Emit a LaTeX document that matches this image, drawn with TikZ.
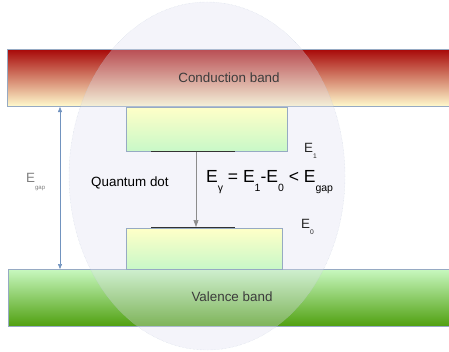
\documentclass[tikz,border=0pt]{standalone}
\usepackage{fontspec}
\setmainfont{Liberation Sans}
\usepackage{tikz}
\usetikzlibrary{shapes.geometric, positioning, arrows.meta, calc}
\definecolor{bandred}{RGB}{168,8,8}
\definecolor{bandcream}{RGB}{255,250,205}
\definecolor{bandlgreen}{RGB}{200,248,192}
\definecolor{banddgreen}{RGB}{80,160,16}
\definecolor{dotyellow}{RGB}{255,255,200}
\definecolor{dotgreen}{RGB}{200,248,200}
\definecolor{dotfill}{RGB}{222,222,240}
\definecolor{edgeblue}{RGB}{150,170,195}
\definecolor{gapblue}{RGB}{52,101,164}
\definecolor{textgray}{RGB}{60,60,60}
\newcommand{\baja}[2][0.5]{\raisebox{-0.5em}{\scalebox{#1}{#2}}}
\tikzset{
  banda/.style={rectangle, draw=edgeblue, thin, inner sep=0pt},
  nivel/.style={rectangle, draw=edgeblue, thin, top color=dotyellow, bottom color=dotgreen, inner sep=0pt},
  linea/.style={draw=black!80, line width=0.9pt},
  flecha/.style={-{Triangle[length=7pt, width=5pt]}, draw=black!45, line width=0.6pt},
  etiqueta/.style={font=\fontsize{13.4}{15}\selectfont, text=textgray, inner sep=0pt}
}

\begin{document}
\begin{tikzpicture}[x=1pt, y=-1pt]
    \useasboundingbox (0,0) rectangle (449,351);

    % Bandas
    \node[banda, top color=bandred, bottom color=bandcream, minimum width=442pt, minimum height=57pt, anchor=north west] (cond) at (7,49) {};
    \node[banda, top color=bandlgreen, bottom color=banddgreen, minimum width=441pt, minimum height=57pt, anchor=north west] (val) at (8,269) {};

    % Punto cuantico
    \node[ellipse, draw=edgeblue!70, densely dotted, fill=dotfill, fill opacity=0.33, draw opacity=0.6, minimum width=276pt, minimum height=348pt, inner sep=0pt] (punto) at (207,176) {};

    % Niveles
    \node[nivel, minimum width=161pt, minimum height=44pt, anchor=north west] (sup) at (126,107) {};
    \node[nivel, minimum width=156pt, minimum height=41pt, anchor=north west] (inf) at (126,228) {};

    % Lineas de energia
    \coordinate (e1a) at (151,151);
    \coordinate (e1b) at (235,151);
    \coordinate (e0a) at (151,227);
    \coordinate (e0b) at (235,227);
    \draw[linea] (e1a) -- (e1b);
    \draw[linea] (e0a) -- (e0b);

    % Transicion
    \coordinate (desde) at (196,151.5);
    \coordinate (hasta) at (196,227);
    \draw[flecha] (desde) -- (hasta);

    % Brecha
    \coordinate (gaparr) at (60,107);
    \coordinate (gapab) at (60,269);
    \draw[{Triangle[length=5pt, width=4pt]}-{Triangle[length=5pt, width=4pt]}, draw=gapblue!70, fill=gapblue, line width=0.5pt] (gaparr) -- (gapab);

    % Textos
    \node[etiqueta] (tcond) at (229,78) {Conduction band};
    \node[etiqueta] (tval) at (232,297) {Valence band};
    \node[etiqueta, text=black, anchor=west] (tdot) at (91,183) {Quantum dot};
    \node[etiqueta, text=black!85, anchor=west] (te1) at (304,151) {E\baja{1}};
    \node[etiqueta, text=black!85, anchor=west] (te0) at (301,227) {E\baja{0}};
    \node[etiqueta, text=black!50, anchor=west] (tgap) at (26,182) {E\baja[0.45]{gap}};
    \node[anchor=west, inner sep=0pt, font=\fontsize{17.5}{20}\selectfont] (tfor) at (206,182) {E\baja[0.6]{γ} = E\baja[0.6]{1}-E\baja[0.6]{0} < E\baja[0.6]{gap}};

\end{tikzpicture}
\end{document}
